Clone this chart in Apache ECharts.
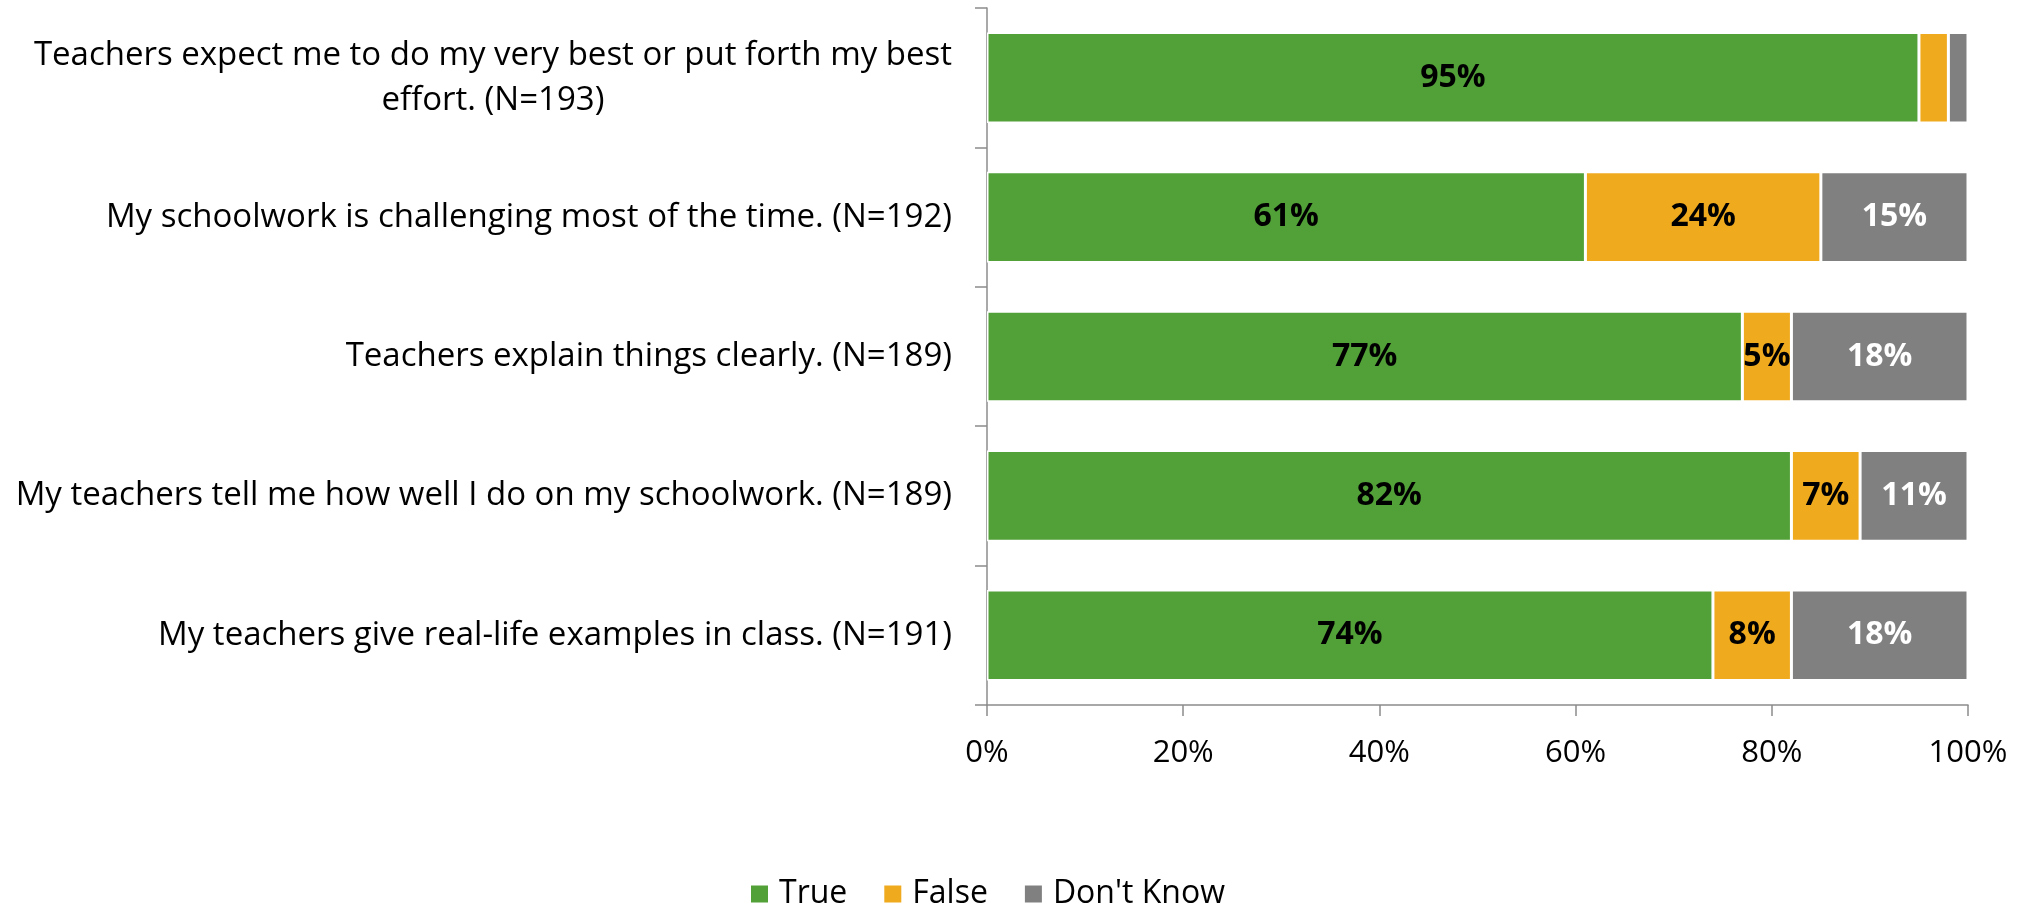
<!DOCTYPE html>
<html>
<head>
<meta charset="utf-8">
<script src="https://cdn.jsdelivr.net/npm/echarts@6/dist/echarts.min.js"></script>
<style>
html,body{margin:0;padding:0;background:#fff;}
#chart{width:2028px;height:907px;}
</style>
</head>
<body>
<div id="chart"></div>
<script>
var categories = [
  "Teachers expect me to do my very best or put forth my best\neffort. (N=193)",
  "My schoolwork is challenging most of the time. (N=192)",
  "Teachers explain things clearly. (N=189)",
  "My teachers tell me how well I do on my schoolwork. (N=189)",
  "My teachers give real-life examples in class. (N=191)"
];
var seriesNames = ["True", "False", "Don't Know"];
var trueValues = [95, 61, 77, 82, 74];
var falseValues = [3, 24, 5, 7, 8];
var dontKnowValues = [2, 15, 18, 11, 18];
var xTicks = [0, 20, 40, 60, 80, 100];

var FONT = "'Open Sans', 'Noto Sans', sans-serif";
var CAT_SIZE = 33;
var colors = ['#52A038', '#F0AA1E', '#808080'];
var labelColors = ['#000000', '#000000', '#FFFFFF'];
var axisColor = '#8C8C8C';

// Rich styles so wrapped category labels have their lines centred
// under each other, while the label block stays right-aligned.
var catRich = {
  c: { align: 'center', fontFamily: FONT, fontSize: CAT_SIZE, color: '#000', lineHeight: 45 }
};
function formatCategory(v) {
  return v.split('\n').map(function (s) { return '{c|' + s + '}'; }).join('\n');
}

function makeSeries(name, values, idx) {
  return {
    name: name,
    type: 'bar',
    stack: 'total',
    barWidth: '65%',
    data: values,
    itemStyle: { color: colors[idx], borderColor: '#ffffff', borderWidth: 1.5 },
    label: {
      show: true,
      position: 'inside',
      color: labelColors[idx],
      fontFamily: FONT,
      fontWeight: 'bold',
      fontSize: 32,
      formatter: function (p) { return p.value < 4 ? '' : p.value + '%'; }
    },
    emphasis: { disabled: true }
  };
}

var chart = echarts.init(document.getElementById('chart'));
chart.setOption({
  animation: false,
  color: colors,
  grid: { left: 987, right: 60, top: 8, bottom: 202, containLabel: false },
  legend: {
    data: seriesNames,
    top: 873,
    left: 744,
    icon: 'rect',
    itemWidth: 19,
    itemHeight: 19,
    itemGap: 35,
    textStyle: { fontFamily: FONT, fontSize: 32, color: '#000', padding: [0, 0, 0, 5] }
  },
  xAxis: {
    type: 'value',
    min: xTicks[0],
    max: xTicks[xTicks.length - 1],
    interval: xTicks[1] - xTicks[0],
    axisLine: { show: true, lineStyle: { color: axisColor, width: 1.5 } },
    axisTick: { show: true, length: 11, lineStyle: { color: axisColor, width: 1.5 } },
    splitLine: { show: false },
    axisLabel: { margin: 33, fontFamily: FONT, fontSize: 31, color: '#000', formatter: '{value}%' }
  },
  yAxis: {
    type: 'category',
    inverse: true,
    data: categories,
    axisLine: { show: true, lineStyle: { color: axisColor, width: 1.5 } },
    axisTick: { show: true, length: 12, lineStyle: { color: axisColor, width: 1.5 } },
    axisLabel: {
      margin: 35,
      align: 'right',
      formatter: formatCategory,
      rich: catRich
    }
  },
  series: [
    makeSeries(seriesNames[0], trueValues, 0),
    makeSeries(seriesNames[1], falseValues, 1),
    makeSeries(seriesNames[2], dontKnowValues, 2)
  ]
});
</script>
</body>
</html>
